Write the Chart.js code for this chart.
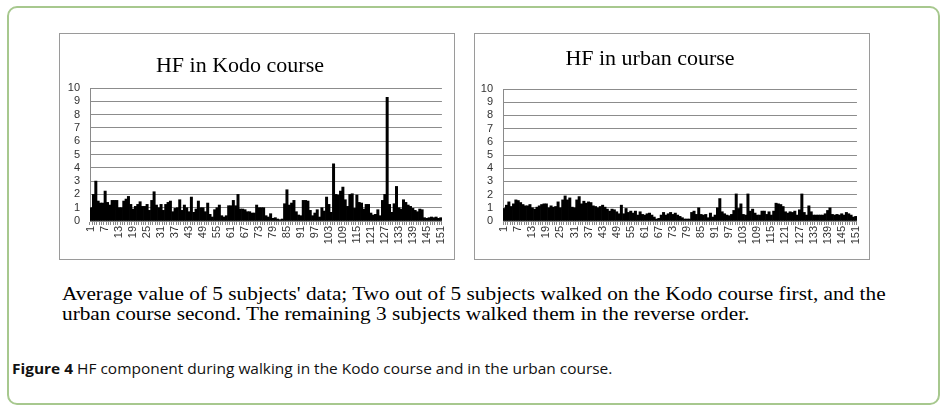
<!DOCTYPE html>
<html>
<head>
<meta charset="utf-8">
<script src="https://cdn.jsdelivr.net/npm/chart.js@4.4.1/dist/chart.umd.min.js"></script>
<style>
  body { margin: 0; background: #fff; width: 947px; height: 409px; position: relative; overflow: hidden; }
  #frame { position: absolute; left: 7px; top: 6px; width: 929px; height: 395px; border: 2px solid #a7c88e; border-radius: 10px; }
  .panel { position: absolute; top: 33px; width: 396px; height: 227px; }
  .panel canvas { position: absolute; left: 0; top: 0; }
  .panel .edge { position: absolute; left: 0; top: 0; right: 0; bottom: 0; border: 1px solid #9a9a9a; box-sizing: border-box; pointer-events: none; }
  .title { position: absolute; font-family: "Liberation Serif", serif; font-size: 22px; line-height: 22px; white-space: nowrap; transform: translateX(-50%); color: #000; }
  #note { position: absolute; left: 62px; top: 284px; font-family: "Liberation Serif", serif; font-size: 19px; line-height: 20px; color: #000; white-space: nowrap; transform: scaleX(1.12); transform-origin: 0 0; }
  #caption { position: absolute; left: 12px; top: 360px; font-family: "Open Sans", sans-serif; font-size: 15px; line-height: 17px; color: #111; white-space: nowrap; transform: scaleX(1.03); transform-origin: 0 0; }
</style>
</head>
<body>
<div id="frame"></div>

<div class="panel" style="left:59px">
  <canvas id="kodo" width="396" height="227"></canvas>
  <div class="edge"></div>
</div>
<div class="panel" style="left:474px">
  <canvas id="urban" width="396" height="227"></canvas>
  <div class="edge"></div>
</div>

<div class="title" style="left:240px; top:54px">HF in Kodo course</div>
<div class="title" style="left:650px; top:47px">HF in urban course</div>

<div id="note">Average value of 5 subjects' data; Two out of 5 subjects walked on the Kodo course first, and the<br>urban course second. The remaining 3 subjects walked them in the reverse order.</div>
<div id="caption"><b>Figure 4</b> HF component during walking in the Kodo course and in the urban course.</div>

<script>
// time points 1..151, only every 6th one is labelled
const categories = [];
for (let i = 1; i <= 151; i++) categories.push(String(i));

const xTickLabels = ["1", "7", "13", "19", "25", "31", "37", "43", "49", "55", "61", "67", "73",
    "79", "85", "91", "97", "103", "109", "115", "121", "127", "133", "139", "145", "151"];

const yMin = 0;
const yMax = 10;

const kodoHF = [
    1.0, 2.0, 3.0, 1.5, 1.35, 1.35, 2.25, 1.4, 1.2, 1.55,
    1.55, 1.55, 1.0, 1.0, 1.5, 1.65, 1.85, 1.25, 0.9, 1.1,
    1.25, 1.45, 1.1, 1.1, 1.25, 0.8, 1.55, 2.2, 1.2, 1.0,
    1.25, 0.8, 1.25, 1.4, 1.5, 0.7, 0.95, 1.0, 1.6, 0.8,
    1.2, 1.0, 0.7, 1.8, 0.65, 0.9, 1.5, 1.0, 1.0, 0.7,
    1.35, 0.5, 0.3, 0.85, 1.0, 1.2, 0.4, 0.3, 0.4, 1.15,
    1.15, 1.55, 1.15, 2.0, 0.9, 0.9, 0.85, 0.7, 0.7, 0.6,
    0.6, 1.2, 1.0, 1.0, 1.0, 0.4, 0.3, 0.55, 0.2, 0.25,
    0.15, 0.1, 0.15, 1.3, 2.35, 1.2, 1.35, 1.55, 0.7, 0.45,
    0.4, 1.55, 1.55, 1.5, 0.8, 0.4, 0.6, 0.85, 0.3, 1.0,
    0.75, 1.8, 1.25, 0.65, 4.3, 2.0, 1.95, 2.25, 2.55, 1.6,
    1.1, 2.0, 2.05, 0.95, 1.95, 1.4, 1.35, 0.9, 1.25, 1.25,
    0.6, 0.45, 0.5, 0.85, 0.4, 1.55, 2.0, 9.3, 1.25, 0.65,
    1.3, 2.6, 1.0, 0.9, 1.6, 1.4, 1.2, 1.1, 0.95, 0.8,
    0.7, 0.9, 0.85, 0.25, 0.2, 0.25, 0.3, 0.25, 0.3, 0.2, 0.25
];

const urbanHF = [
    0.95, 1.2, 1.45, 1.1, 1.3, 1.6, 1.55, 1.4, 1.25, 1.15,
    1.15, 1.25, 1.0, 0.9, 1.05, 1.15, 1.25, 1.3, 1.3, 1.0,
    1.15, 1.05, 1.1, 1.45, 1.0, 1.6, 1.9, 1.6, 1.75, 1.05,
    1.0, 1.6, 1.85, 1.3, 1.5, 1.35, 1.45, 1.4, 1.15, 1.1,
    1.0, 1.1, 1.2, 1.05, 0.9, 0.75, 0.9, 0.85, 0.7, 0.55,
    1.2, 0.55, 0.95, 0.65, 0.75, 0.6, 0.75, 0.45, 0.7, 0.5,
    0.45, 0.55, 0.6, 0.45, 0.3, 0.15, 0.2, 0.45, 0.65, 0.45,
    0.55, 0.65, 0.5, 0.6, 0.45, 0.35, 0.25, 0.15, 0.15, 0.15,
    0.65, 0.75, 0.5, 1.0, 0.5, 0.45, 0.5, 0.25, 0.6, 0.3,
    0.45, 1.0, 1.7, 0.7, 0.55, 0.45, 0.4, 0.5, 0.8, 2.05,
    0.95, 1.3, 0.5, 0.45, 2.05, 0.75, 0.9, 0.6, 0.45, 0.45,
    0.75, 0.75, 0.5, 0.7, 0.45, 0.75, 1.35, 1.3, 1.25, 1.1,
    0.7, 0.6, 0.7, 0.65, 0.75, 0.45, 0.85, 2.05, 0.65, 0.45,
    1.15, 0.7, 0.45, 0.45, 0.45, 0.45, 0.45, 0.55, 0.8, 1.0,
    0.5, 0.45, 0.5, 0.45, 0.55, 0.45, 0.65, 0.55, 0.45, 0.3, 0.35
];

const TICK_FONT = {family: "Liberation Sans", size: 11};

function makeChart(id, values, box) {
    const ctx = document.getElementById(id).getContext("2d");
    return new Chart(ctx, {
        type: "bar",
        data: {
            labels: categories,
            datasets: [{
                data: values,
                backgroundColor: "#000",
                borderWidth: 0,
                barPercentage: 1,
                categoryPercentage: 1,
            }],
        },
        options: {
            responsive: false,
            animation: false,
            layout: {padding: {left: 0, right: box.right, top: box.top, bottom: 0}},
            plugins: {legend: {display: false}, tooltip: {enabled: false}},
            scales: {
                x: {
                    grid: {drawOnChartArea: false, drawTicks: true, tickLength: 4, color: "#8a8a8a"},
                    border: {color: "#8a8a8a"},
                    ticks: {
                        autoSkip: false,
                        minRotation: 90,
                        maxRotation: 90,
                        padding: 1,
                        color: "#333",
                        font: TICK_FONT,
                        callback: function (v) {
                            const l = this.getLabelForValue(v);
                            return xTickLabels.includes(l) ? l : "";
                        },
                    },
                    afterFit: (s) => { s.height = box.bottom; },
                },
                y: {
                    min: yMin,
                    max: yMax,
                    grid: {color: "#8c8c8c", drawTicks: false},
                    border: {color: "#8a8a8a"},
                    ticks: {stepSize: 1, autoSkip: false, padding: 10, color: "#333", font: TICK_FONT},
                    afterFit: (s) => { s.width = box.left; },
                },
            },
        },
    });
}

makeChart("kodo", kodoHF, {left: 31, right: 9, top: 55, bottom: 39});
makeChart("urban", urbanHF, {left: 29, right: 10, top: 56, bottom: 39});
</script>
</body>
</html>
